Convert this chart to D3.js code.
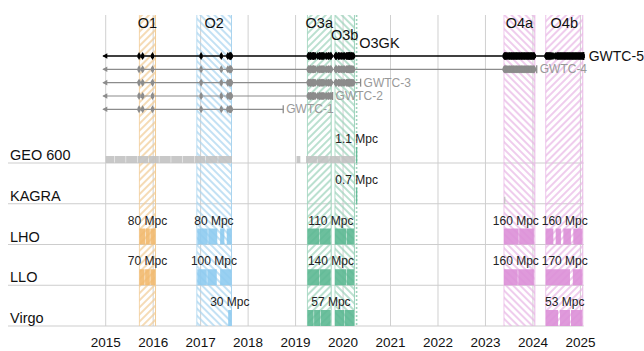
<!DOCTYPE html>
<html><head><meta charset="utf-8">
<script src="https://cdn.jsdelivr.net/npm/d3@7/dist/d3.min.js"></script>
<style>
body{margin:0;background:#fff}
svg{display:block}
text{font-family:"Liberation Sans",Arial,Helvetica,sans-serif}
</style>
</head><body>
<svg id="chart" width="644" height="351"></svg>
<script>
// ---------------- DATA ----------------
const yearTicks = [2015,2016,2017,2018,2019,2020,2021,2022,2023,2024,2025];

const runNames  = ['O1','O2','O3a','O3b','O3GK','O4a','O4b'];
const runStart  = [2015.71, 2016.92, 2019.25, 2019.83, 2020.27, 2023.39, 2024.27];
const runEnd    = [2016.05, 2017.65, 2019.75, 2020.24, 2020.30, 2024.04, 2025.05];
const runFamily = ['O1','O2','O3','O3','O3','O4','O4'];
const runLevel  = [0, 0, 0, 1, 2, 0, 0];

const detectorNames = ['GEO 600','KAGRA','LHO','LLO','Virgo'];

// segments: [start, end, family]
const geoSegments = [
  [2015.00,2015.18,'G'],[2015.19,2015.42,'G'],[2015.43,2015.66,'G'],[2015.67,2015.90,'G'],
  [2015.91,2016.12,'G'],[2016.13,2016.37,'G'],[2016.38,2016.61,'G'],[2016.62,2016.86,'G'],
  [2016.87,2017.10,'G'],[2017.11,2017.36,'G'],[2017.37,2017.66,'G'],
  [2019.02,2019.10,'G'],
  [2019.22,2019.45,'G'],[2019.46,2019.70,'G'],[2019.71,2019.95,'G'],[2019.96,2020.25,'G'],
  [2020.27,2020.30,'O3']
];
const kagraSegments = [
  [2020.27,2020.30,'O3'],
  [2023.39,2023.42,'G']
];
const lhoSegments = [
  [2015.71,2015.83,'O1'],[2015.84,2015.93,'O1'],[2015.94,2016.04,'O1'],
  [2016.93,2017.15,'O2'],[2017.16,2017.35,'O2'],[2017.41,2017.50,'O2'],[2017.55,2017.65,'O2'],
  [2019.25,2019.50,'O3'],[2019.51,2019.74,'O3'],[2019.83,2020.07,'O3'],[2020.08,2020.23,'O3'],
  [2023.39,2023.70,'O4'],[2023.71,2024.02,'O4'],
  [2024.27,2024.43,'O4'],[2024.48,2024.59,'O4'],[2024.64,2024.80,'O4'],[2024.85,2025.04,'O4']
];
const lloSegments = [
  [2015.71,2015.82,'O1'],[2015.83,2015.93,'O1'],[2015.94,2016.04,'O1'],
  [2016.93,2017.13,'O2'],[2017.14,2017.34,'O2'],[2017.41,2017.65,'O2'],
  [2019.25,2019.50,'O3'],[2019.51,2019.74,'O3'],[2019.83,2020.07,'O3'],[2020.08,2020.23,'O3'],
  [2023.39,2023.68,'O4'],[2023.69,2024.02,'O4'],
  [2024.27,2024.78,'O4'],[2024.84,2025.04,'O4']
];
const virgoSegments = [
  [2017.58,2017.65,'O2'],
  [2019.25,2019.38,'O3'],[2019.39,2019.52,'O3'],[2019.53,2019.74,'O3'],
  [2019.83,2020.02,'O3'],[2020.03,2020.23,'O3'],
  [2024.27,2024.53,'O4'],[2024.57,2024.78,'O4'],[2024.80,2025.04,'O4']
];

// range labels: [year position, text]
const geoRanges   = [[2020.285,'1.1 Mpc']];
const kagraRanges = [[2020.285,'0.7 Mpc']];
const lhoRanges   = [[2015.88,'80 Mpc'],[2017.28,'80 Mpc'],[2019.745,'110 Mpc'],[2023.64,'160 Mpc'],[2024.67,'160 Mpc']];
const lloRanges   = [[2015.88,'70 Mpc'],[2017.28,'100 Mpc'],[2019.745,'140 Mpc'],[2023.64,'160 Mpc'],[2024.67,'170 Mpc']];
const virgoRanges = [[2017.615,'30 Mpc'],[2019.745,'57 Mpc'],[2024.67,'53 Mpc']];

// gravitational-wave event times
const eventsO1 = [2015.703, 2015.778, 2015.986];
const eventsO2 = [2017.010, 2017.435, 2017.573, 2017.605, 2017.620, 2017.627, 2017.630, 2017.645];
const eventsO3a = [2019.268,2019.279,2019.282,2019.283,2019.304,2019.312,2019.315,2019.318,2019.337,
  2019.362,2019.364,2019.367,2019.375,2019.381,2019.386,2019.387,2019.403,2019.419,2019.468,
  2019.496,2019.499,2019.512,2019.515,2019.518,2019.548,2019.551,2019.570,2019.573,2019.581,
  2019.589,2019.619,2019.658,2019.659,2019.690,2019.693,2019.707,2019.732,2019.745,2019.748];
const eventsO3b = [2019.841,2019.847,2019.858,2019.868,2019.904,2019.907,2019.912,2019.926,2019.956,
  2019.959,2019.975,2019.997,2020.012,2020.031,2020.039,2020.074,2020.077,2020.088,2020.104,
  2020.105,2020.107,2020.110,2020.126,2020.134,2020.137,2020.138,2020.148,2020.151,2020.167,
  2020.178,2020.183,2020.191,2020.205,2020.221];
const eventsO4a = [2023.394,2023.401,2023.412,2023.418,2023.425,2023.433,2023.441,2023.452,2023.466,
  2023.478,2023.492,2023.503,2023.511,2023.522,2023.534,2023.546,2023.553,2023.561,2023.572,
  2023.584,2023.592,2023.603,2023.611,2023.624,2023.633,2023.645,2023.652,2023.661,2023.674,
  2023.683,2023.692,2023.704,2023.712,2023.721,2023.733,2023.746,2023.754,2023.762,2023.771,
  2023.783,2023.791,2023.802,2023.813,2023.822,2023.831,2023.846,2023.853,2023.862,2023.874,
  2023.881,2023.893,2023.902,2023.911,2023.923,2023.934,2023.945,2023.952,2023.964,2023.972,
  2023.981,2023.993,2024.004,2024.012,2024.021,2024.030];
const eventsO4b = [2024.276,2024.283,2024.291,2024.302,2024.311,2024.318,2024.327,2024.336,2024.344,
  2024.352,2024.363,2024.371,2024.382,2024.393,2024.412,2024.441,2024.472,2024.503,2024.512,
  2024.521,2024.533,2024.541,2024.552,2024.561,2024.572,2024.583,2024.591,2024.602,2024.611,
  2024.623,2024.632,2024.641,2024.653,2024.662,2024.671,2024.683,2024.692,2024.701,2024.713,
  2024.722,2024.731,2024.742,2024.751,2024.763,2024.772,2024.781,2024.793,2024.802,2024.811,
  2024.823,2024.832,2024.841,2024.853,2024.862,2024.871,2024.883,2024.892,2024.901,2024.913,
  2024.922,2024.931,2024.943,2024.952,2024.961,2024.973,2024.982,2024.991,2025.003,2025.012,
  2025.021,2025.033,2025.042,2025.051,2025.060];

const catalogNames = ['GWTC-5','GWTC-4','GWTC-3','GWTC-2','GWTC-1'];
const catalogEnd   = [2025.07, 2024.08, 2020.37, 2019.78, 2018.74];
const catalogEvents = [
  [eventsO1,eventsO2,eventsO3a,eventsO3b,eventsO4a,eventsO4b],
  [eventsO1,eventsO2,eventsO3a,eventsO3b,eventsO4a],
  [eventsO1,eventsO2,eventsO3a,eventsO3b],
  [eventsO1,eventsO2,eventsO3a],
  [eventsO1,eventsO2]
];

// ---------------- STYLE ----------------
const barColor   = {O1:'#f2b96e', O2:'#8ecbf0', O3:'#5cb892', O4:'#db8fd7', G:'#c2c2c2'};
const hatchColor = {O1:'#f1cc96', O2:'#a9d4ef', O3:'#9dd3bb', O4:'#e8b7e5'};

const svg = d3.select('#chart');
const x = d3.scaleLinear().domain([2015, 2025]).range([105.7, 580.4]);
const yTop = 15, yBottom = 326;
const rowY = d3.scalePoint().domain(detectorNames).range([163, 326]);
const catY = d3.scalePoint().domain(catalogNames).range([56, 109.3]);
const xRight = x(2025.07);

// hatch patterns
const defs = svg.append('defs');
runNames.forEach((r,i) => {
  const fam = runFamily[i];
  const angle = (i % 2 === 0) ? 45 : -45;
  const p = defs.append('pattern').attr('id','h'+r).attr('patternUnits','userSpaceOnUse')
    .attr('width',5).attr('height',5).attr('patternTransform',`rotate(${angle})`);
  p.append('line').attr('x1',1).attr('x2',1).attr('y1',0).attr('y2',5)
    .attr('stroke',hatchColor[fam]).attr('stroke-width',1.4);
});

// grid
const grid = svg.append('g');
grid.selectAll('line.v').data(yearTicks).join('line')
  .attr('x1',d=>x(d)).attr('x2',d=>x(d)).attr('y1',yTop).attr('y2',yBottom)
  .attr('stroke','#d0d0d0').attr('stroke-width',1);

// run bands
const bands = svg.append('g');
runNames.forEach((r,i) => {
  const x0 = x(runStart[i]), x1 = x(runEnd[i]);
  if (r === 'O3GK') {
    bands.append('line').attr('x1',(x0+x1)/2).attr('x2',(x0+x1)/2).attr('y1',yTop).attr('y2',yBottom)
      .attr('stroke',hatchColor.O3).attr('stroke-width',1.6).attr('stroke-dasharray','2,2');
    return;
  }
  bands.append('rect').attr('x',x0).attr('y',yTop).attr('width',x1-x0).attr('height',yBottom-yTop)
    .attr('fill',`url(#h${r})`);
  bands.append('line').attr('x1',x0).attr('x2',x0).attr('y1',yTop).attr('y2',yBottom)
    .attr('stroke',hatchColor[runFamily[i]]).attr('stroke-width',0.8);
  bands.append('line').attr('x1',x1).attr('x2',x1).attr('y1',yTop).attr('y2',yBottom)
    .attr('stroke',hatchColor[runFamily[i]]).attr('stroke-width',1);
});

// horizontal row lines
grid.selectAll('line.h').data(detectorNames).join('line')
  .attr('x1',8).attr('x2',xRight).attr('y1',d=>rowY(d)).attr('y2',d=>rowY(d))
  .attr('stroke','#cdcdcd').attr('stroke-width',1);

// run labels
const levelY = [27.5, 39.5, 48];
svg.append('g').selectAll('text').data(runNames).join('text')
  .attr('x',(d,i)=> d==='O3GK' ? x(runEnd[i])+2 : x((runStart[i]+runEnd[i])/2))
  .attr('y',(d,i)=>levelY[runLevel[i]])
  .attr('text-anchor',d=> d==='O3GK' ? 'start' : 'middle')
  .attr('font-size',14.5).attr('fill','#111').text(d=>d);

// detector rows
const segSets = [geoSegments,kagraSegments,lhoSegments,lloSegments,virgoSegments];
const rangeSets = [geoRanges,kagraRanges,lhoRanges,lloRanges,virgoRanges];
const rows = svg.append('g');
detectorNames.forEach((det,k) => {
  const yb = rowY(det);
  rows.selectAll(null).data(segSets[k]).join('rect')
    .attr('x',d=>x(d[0])).attr('width',d=>Math.max(1.3, x(d[1])-x(d[0])))
    .attr('y',d=> d[2]==='G' ? yb-7 : yb-16)
    .attr('height',d=> d[2]==='G' ? 7 : 16)
    .attr('fill',d=>barColor[d[2]]).attr('opacity',0.9);
  rows.selectAll(null).data(rangeSets[k]).join('text')
    .attr('x',d=>x(d[0])).attr('y',yb-20).attr('text-anchor','middle')
    .attr('font-size',12).attr('fill','#222').text(d=>d[1]);
  rows.append('text').attr('x',10).attr('y',yb-3).attr('font-size',14.5).attr('fill','#111').text(det);
});

// catalogs
const markerPath = 'M0,-4 L1.6,-1.3 L1.6,1.3 L0,4 L-1.6,1.3 L-1.6,-1.3Z';
const cats = svg.append('g');
catalogNames.forEach((c,i) => {
  const yc = catY(c);
  const col = i === 0 ? '#000' : '#8c8c8c';
  const g = cats.append('g');
  g.append('line').attr('x1',x(2014.95)).attr('x2',x(catalogEnd[i])).attr('y1',yc).attr('y2',yc)
    .attr('stroke',col).attr('stroke-width',i===0?1.3:1.2);
  g.append('path').attr('d',`M${x(2014.95)-1},${yc} l5,-2.8 l0,5.6Z`).attr('fill',col);
  g.append('line').attr('x1',x(catalogEnd[i])).attr('x2',x(catalogEnd[i])).attr('y1',yc-4).attr('y2',yc+4)
    .attr('stroke',col).attr('stroke-width',1.3);
  const evs = catalogEvents[i].flat();
  g.selectAll('path.ev').data(evs).join('path')
    .attr('transform',d=>`translate(${x(d)},${yc})`).attr('d',markerPath).attr('fill',col);
  g.append('text').attr('x',x(catalogEnd[i])+ (i===0?5:3)).attr('y',yc+(i===0?5:4))
    .attr('font-size',i===0?14:12).attr('fill',i===0?'#111':'#999').text(c);
});

// year axis labels
svg.append('g').selectAll('text').data(yearTicks).join('text')
  .attr('x',d=>x(d)).attr('y',347).attr('text-anchor','middle')
  .attr('font-size',13.5).attr('fill','#111').text(d=>d);
</script>
</body></html>
